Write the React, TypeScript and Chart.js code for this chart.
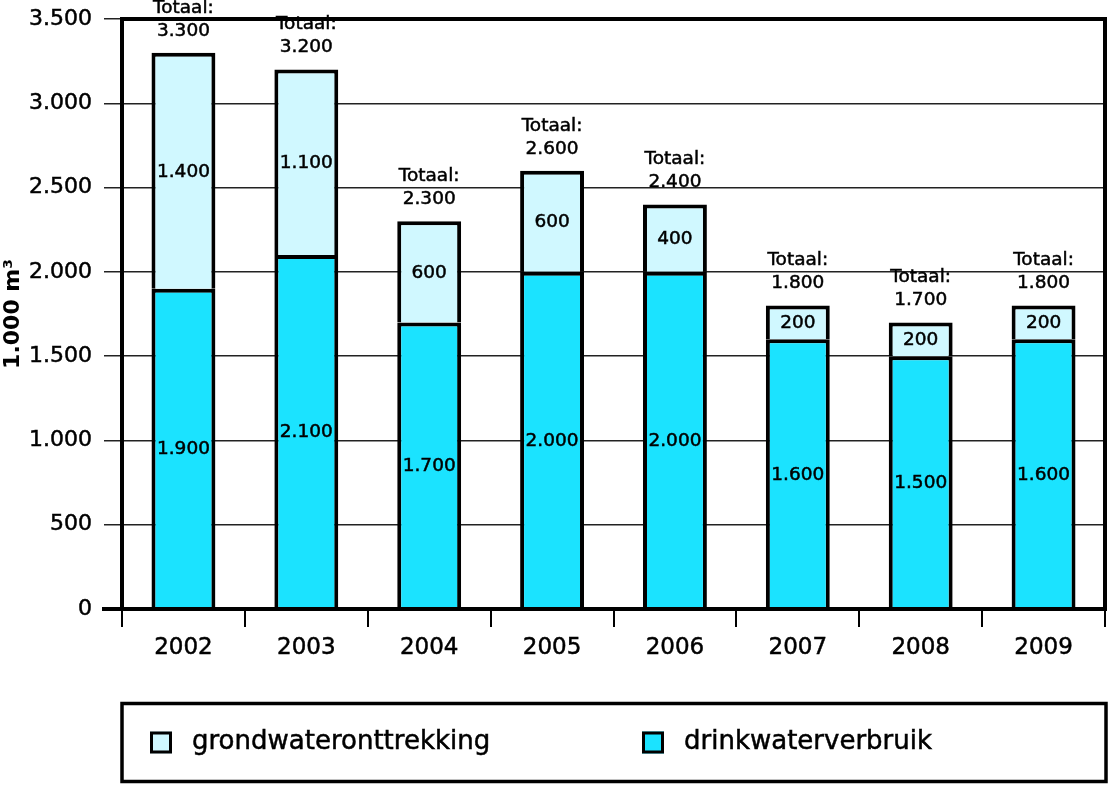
import React, { useEffect, useRef } from "react";
import { Chart, registerables } from "chart.js";

Chart.register(...registerables);

const years = ["2002", "2003", "2004", "2005", "2006", "2007", "2008", "2009"];
const drinkwaterverbruik = [1900, 2100, 1700, 2000, 2000, 1600, 1500, 1600];
const grondwateronttrekking = [1400, 1100, 600, 600, 400, 200, 200, 200];
const seriesNames = ["drinkwaterverbruik", "grondwateronttrekking"];
const yMax = 3500;
const yStep = 500;
const totalLabel = "Totaal:";
const yTitle = "1.000 m³";

const COL_DRINK = "#1be3ff";
const COL_GROND = "#d0f8ff";
const FONT = "'DejaVu Sans', sans-serif";
const STROKE = 0.5;

function fmt(v: number): string {
  const s = Math.round(v).toString();
  return s.replace(/\B(?=(\d{3})+(?!\d))/g, ".");
}

function heavyText(ctx: any, t: string, x: number, y: number) {
  ctx.fillText(t, x, y);
  ctx.strokeText(t, x, y);
}

const labelsPlugin = {
  id: "customLabels",
  afterDatasetsDraw(chart: any) {
    const ctx = chart.ctx;
    ctx.save();
    ctx.fillStyle = "#000";
    ctx.strokeStyle = "#000";
    ctx.lineWidth = STROKE;
    ctx.textAlign = "center";
    ctx.textBaseline = "middle";
    ctx.font = `18.5px ${FONT}`;
    chart.data.datasets.forEach((ds: any, di: number) => {
      const meta = chart.getDatasetMeta(di);
      meta.data.forEach((bar: any, i: number) => {
        const y = (bar.y + bar.base) / 2;
        heavyText(ctx, fmt(ds.data[i]), bar.x, y + 1);
      });
    });
    // totals
    const top = chart.getDatasetMeta(chart.data.datasets.length - 1);
    top.data.forEach((bar: any, i: number) => {
      let total = 0;
      chart.data.datasets.forEach((ds: any) => (total += ds.data[i]));
      const yTop = chart.scales.y.getPixelForValue(total);
      heavyText(ctx, fmt(total), bar.x, yTop - 22);
      heavyText(ctx, totalLabel, bar.x, yTop - 45);
    });
    ctx.restore();
  },
  afterDraw(chart: any) {
    const ctx = chart.ctx;
    const a = chart.chartArea;
    ctx.save();
    ctx.strokeStyle = "#000";
    ctx.lineWidth = 4;
    ctx.lineCap = "square";
    ctx.beginPath();
    ctx.moveTo(a.left, a.bottom);
    ctx.lineTo(a.left, a.top);
    ctx.lineTo(a.right, a.top);
    ctx.lineTo(a.right, a.bottom);
    ctx.moveTo(a.left - 18, a.bottom);
    ctx.lineTo(a.right, a.bottom);
    ctx.stroke();

    // legend box
    const bx = a.left;
    const by = 703.5;
    const bw = 1106 - a.left;
    const bh = 78;
    ctx.lineWidth = 3.5;
    ctx.lineCap = "butt";
    ctx.strokeRect(bx, by, bw, bh);
    const items = chart.data.datasets.slice().reverse();
    const xs = [150, 642];
    const cy = by + bh / 2;
    items.forEach((ds: any, k: number) => {
      const sx = xs[k];
      ctx.fillStyle = ds.backgroundColor;
      ctx.fillRect(sx, cy - 11, 22, 22);
      ctx.lineWidth = 3;
      ctx.strokeStyle = "#000";
      ctx.strokeRect(sx + 1.5, cy - 9.5, 19, 19);
      ctx.fillStyle = "#000";
      ctx.lineWidth = STROKE;
      ctx.font = `26px ${FONT}`;
      ctx.textAlign = "left";
      ctx.textBaseline = "middle";
      heavyText(ctx, ds.label, sx + 42, cy);
    });
    ctx.restore();
  },
};

export default function App() {
  const ref = useRef<HTMLCanvasElement>(null);
  useEffect(() => {
    document.body.style.margin = "0";
    const border = { top: 4, left: 4, right: 4, bottom: 0 };
    const chart = new Chart(ref.current!, {
      type: "bar",
      data: {
        labels: years,
        datasets: [
          {
            label: seriesNames[0],
            data: drinkwaterverbruik,
            backgroundColor: COL_DRINK,
            borderColor: "#000",
            borderWidth: border,
            borderSkipped: false,
            barPercentage: 0.52,
            categoryPercentage: 1,
          },
          {
            label: seriesNames[1],
            data: grondwateronttrekking,
            backgroundColor: COL_GROND,
            borderColor: "#000",
            borderWidth: border,
            borderSkipped: false,
            barPercentage: 0.52,
            categoryPercentage: 1,
          },
        ],
      },
      options: {
        animation: false,
        responsive: false,
        maintainAspectRatio: false,
        layout: { padding: { top: 19, right: 3, bottom: 116, left: 0 } },
        plugins: {
          legend: { display: false },
          tooltip: { enabled: false },
        },
        scales: {
          x: {
            stacked: true,
            offset: true,
            grid: {
              offset: true,
              drawOnChartArea: false,
              drawTicks: true,
              tickLength: 18,
              color: "#000",
              lineWidth: 2,
            },
            border: { display: false },
            ticks: {
              color: "#000",
              font: { family: FONT, size: 23 },
              padding: 7,
              textStrokeColor: "#000",
              textStrokeWidth: STROKE,
            },
            afterFit: (s: any) => {
              s.height = 60;
            },
          },
          y: {
            stacked: true,
            min: 0,
            max: yMax,
            grid: {
              color: "#222",
              lineWidth: 1.5,
              tickLength: 18,
            },
            border: { display: false },
            ticks: {
              stepSize: yStep,
              color: "#000",
              font: { family: FONT, size: 22 },
              padding: 12,
              textStrokeColor: "#000",
              textStrokeWidth: STROKE,
              callback: (v: any) => fmt(Number(v)),
            },
            title: {
              display: true,
              text: yTitle,
              color: "#000",
              font: { family: FONT, size: 22, weight: "bold" },
              padding: { top: 0, bottom: 0 },
            },
            afterFit: (s: any) => {
              s.width = 122;
              s.paddingTop = 0;
              s.paddingBottom = 0;
            },
          },
        },
      },
      plugins: [labelsPlugin],
    });
    return () => chart.destroy();
  }, []);
  return (
    <div style={{ width: 1108, height: 785 }}>
      <canvas ref={ref} width={1108} height={785} style={{ width: 1108, height: 785 }} />
    </div>
  );
}
